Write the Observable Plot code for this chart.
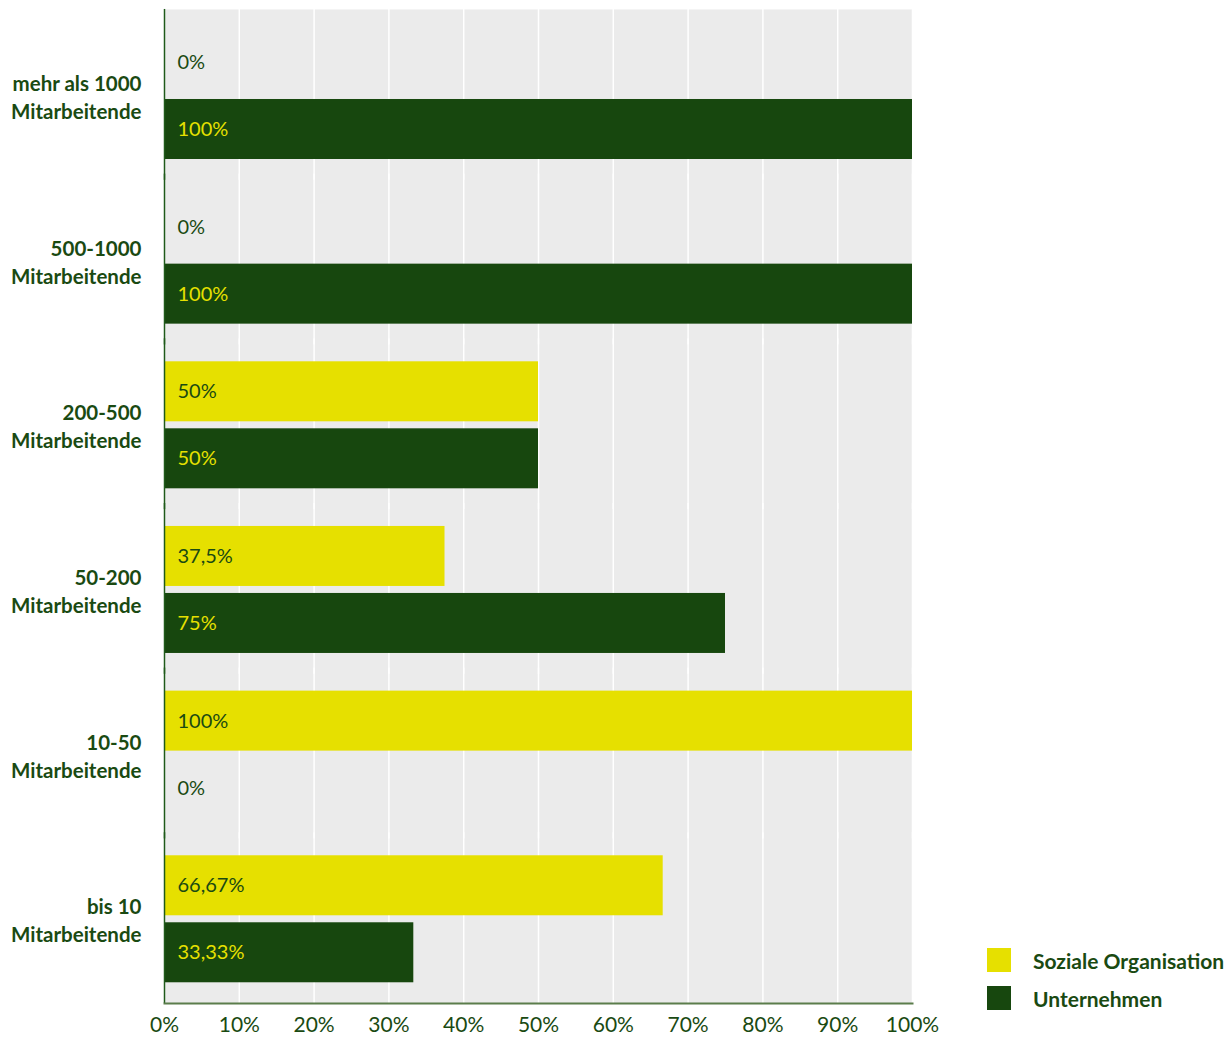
<!DOCTYPE html>
<html>
<head>
<meta charset="utf-8">
<script src="https://cdn.jsdelivr.net/npm/d3@7"></script>
<script src="https://cdn.jsdelivr.net/npm/@observablehq/plot@0.6"></script>
<style>
  html, body { margin: 0; padding: 0; background: #fff; }
  #wrap { position: relative; width: 1231px; height: 1037px; font-family: Lato, "Noto Sans", sans-serif; }
  #legend { position: absolute; left: 987px; top: 948px; }
  .item { display: flex; align-items: center; height: 24px; margin-bottom: 14px; }
  .sw { width: 24px; height: 24px; margin-right: 22px; }
  .lab { font-weight: bold; font-size: 21px; color: #1a4a12; }
</style>
</head>
<body>
<div id="wrap"><div id="legend"></div></div>
<script>
const categories = [
  "mehr als 1000\nMitarbeitende",
  "500-1000\nMitarbeitende",
  "200-500\nMitarbeitende",
  "50-200\nMitarbeitende",
  "10-50\nMitarbeitende",
  "bis 10\nMitarbeitende"
];
const series = ["Soziale Organisation", "Unternehmen"];
const soziale = [0, 0, 50, 37.5, 100, 66.67];
const unternehmen = [100, 100, 50, 75, 0, 33.33];
const xTicks = [0, 10, 20, 30, 40, 50, 60, 70, 80, 90, 100];

const YELLOW = "#e6e000";
const GREEN = "#17470e";
const TEXT = "#1a4a12";

const data = [];
categories.forEach((c, i) => {
  data.push({cat: c, series: series[0], value: soziale[i]});
  data.push({cat: c, series: series[1], value: unternehmen[i]});
});
const fmt = v => String(v).replace(".", ",") + "%";
const extT = -4.2, extB = -2;

const chart = Plot.plot({
  width: 1231,
  height: 1037,
  marginLeft: 164,
  marginRight: 319,
  marginTop: 9,
  marginBottom: 34,
  style: {fontFamily: "Lato, 'Noto Sans', sans-serif", background: "white"},
  x: {domain: [0, 100], ticks: xTicks},
  fy: {domain: categories, paddingInner: 0, paddingOuter: 0.0184, align: 0.687, round: false},
  y: {domain: series, paddingInner: 0.1045, paddingOuter: 0.281, round: false, axis: null},
  color: {domain: series, range: [YELLOW, GREEN]},
  marks: [
    Plot.frame({fill: "#ebebeb", stroke: null, insetTop: extT, insetBottom: extB}),
    Plot.ruleX(xTicks, {stroke: "white", strokeWidth: 1.5, insetTop: extT, insetBottom: extB}),
    Plot.barX(data, {fy: "cat", y: "series", x: "value", fill: "series"}),
    Plot.text(data, {
      fy: "cat", y: "series", x: 0, text: d => fmt(d.value),
      textAnchor: "start", dx: 13, fontSize: 20,
      fill: d => (d.series === series[1] && d.value > 0) ? YELLOW : TEXT
    }),
    Plot.ruleX([0], {stroke: "#1f5a1a", strokeWidth: 1.5, insetTop: extT, insetBottom: extB}),
    Plot.frame({anchor: "bottom", facet: "super", stroke: "#5b7d4b", strokeWidth: 2, insetBottom: extB}),
    Plot.axisX({ticks: xTicks, tickSize: 0, tickPadding: 15, fontSize: 21, fill: TEXT, label: null, tickFormat: d => d + "%"}),
    Plot.axisFy({anchor: "left", tickSize: 0, tickPadding: 23, fontSize: 20.5, fontWeight: "bold", fill: TEXT, label: null, lineHeight: 1.38})
  ]
});
document.getElementById("wrap").prepend(chart);

const legend = document.getElementById("legend");
series.forEach((s, i) => {
  const it = document.createElement("div");
  it.className = "item";
  it.innerHTML = `<div class="sw" style="background:${[YELLOW, GREEN][i]}"></div><span class="lab">${s}</span>`;
  legend.appendChild(it);
});
</script>
</body>
</html>
